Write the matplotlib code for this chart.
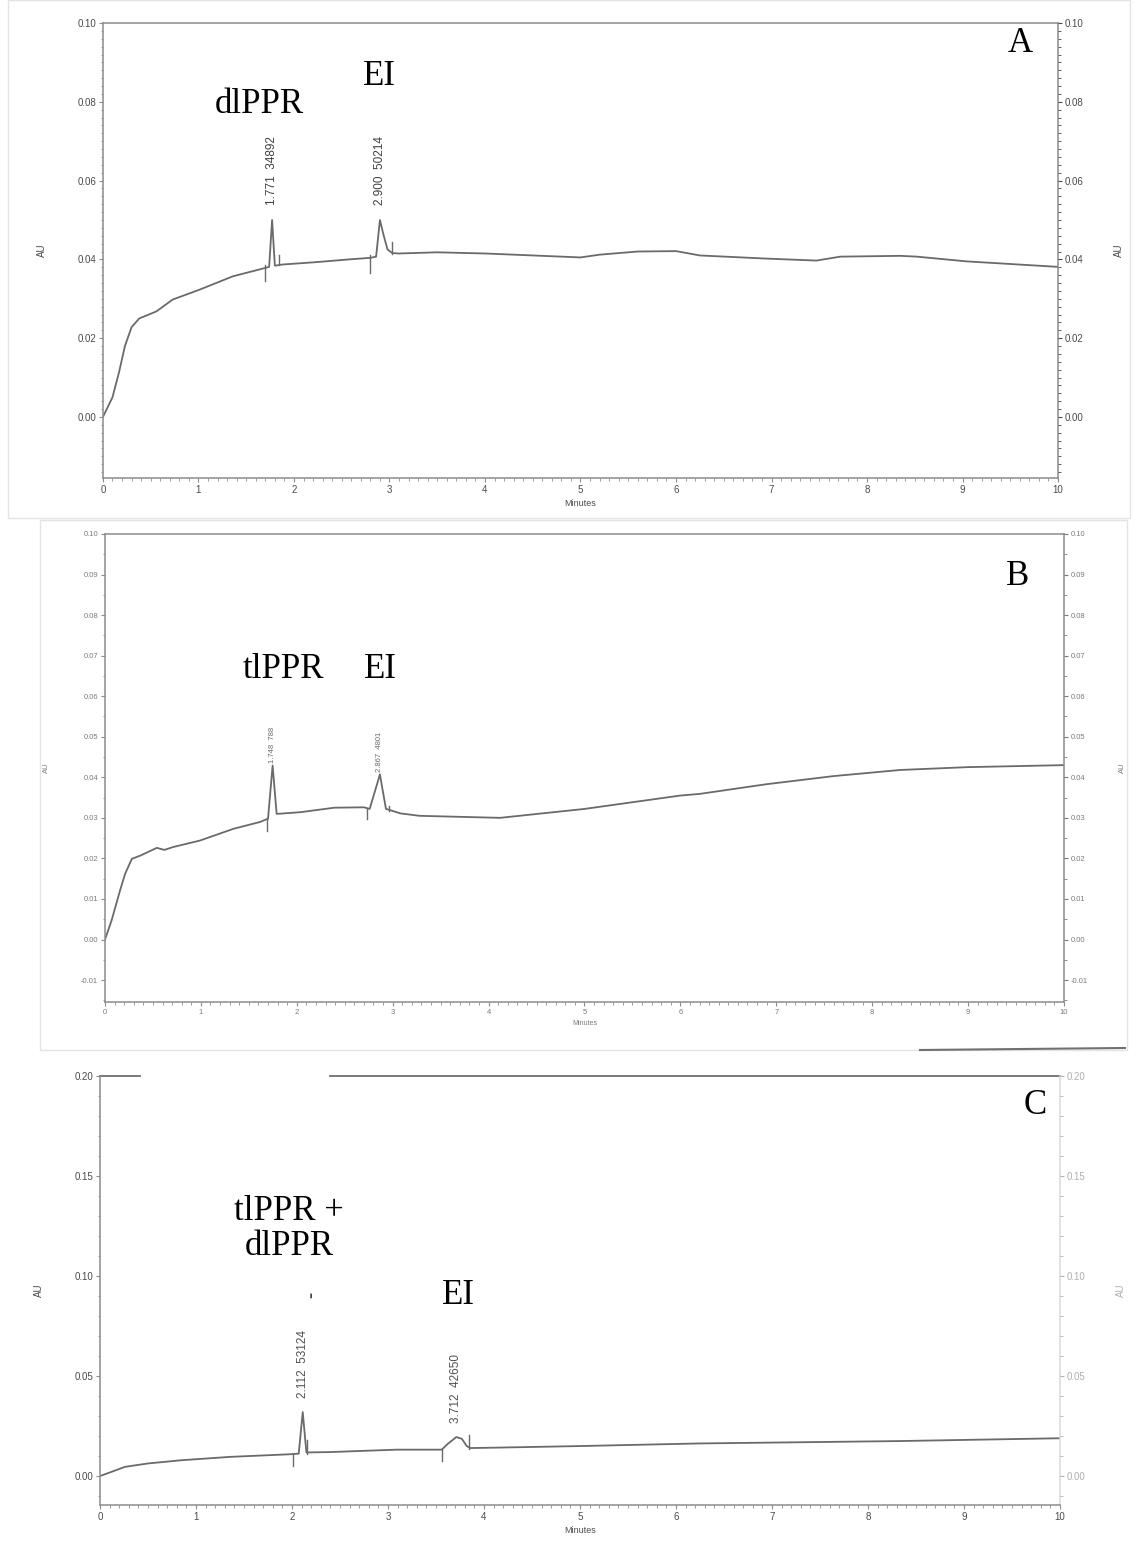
import numpy as np
import matplotlib.pyplot as plt
from matplotlib.ticker import MultipleLocator, FormatStrFormatter
from matplotlib.patches import Rectangle

# ---- run A : dlPPR + EI ----
a_time = [0.0, 0.10, 0.17, 0.23, 0.30, 0.38, 0.56, 0.73, 1.01, 1.36, 1.71, 1.74,
          1.80, 1.88, 2.23, 2.58, 2.80, 2.86, 2.94, 2.98, 3.03, 3.10, 3.50, 4.00,
          4.50, 5.00, 5.20, 5.60, 6.00, 6.25, 6.95, 7.47, 7.72, 8.35, 8.52, 9.04, 10.0]
a_au = [0.0, 0.0050, 0.0115, 0.0180, 0.0228, 0.0250, 0.0268, 0.0298, 0.0323, 0.0357,
        0.0379, 0.0381, 0.0384, 0.0387, 0.0393, 0.0400, 0.0404, 0.0407, 0.0460, 0.0425,
        0.0416, 0.0415, 0.0418, 0.0415, 0.0410, 0.0405, 0.0412, 0.0420, 0.0421, 0.0410,
        0.0402, 0.0397, 0.0407, 0.0409, 0.0407, 0.0395, 0.0381]
a_peak_t = [1.771, 2.900]
a_peak_h = [0.050, 0.050]
a_peak_area = [34892, 50214]
a_start = [(1.70, 0.0345, 0.0385), (2.80, 0.0365, 0.0410)]
a_end = [(1.84, 0.0385, 0.0410), (3.03, 0.0413, 0.0445)]

# ---- run B : tlPPR + EI ----
b_time = [0.0, 0.07, 0.157, 0.21, 0.28, 0.37, 0.54, 0.62, 0.71, 0.99, 1.34, 1.62,
          1.70, 1.79, 1.81, 2.04, 2.39, 2.70, 2.76, 2.93, 2.96, 3.08, 3.28, 4.12,
          5.00, 6.00, 6.20, 6.90, 7.60, 8.29, 8.99, 10.0]
b_au = [0.0, 0.0048, 0.0121, 0.0162, 0.0199, 0.0207, 0.0226, 0.0221, 0.0228, 0.0244,
        0.0273, 0.0290, 0.0298, 0.0310, 0.0310, 0.0314, 0.0325, 0.0326, 0.0322, 0.0322,
        0.0320, 0.0311, 0.0305, 0.0300, 0.0322, 0.0355, 0.0359, 0.0383, 0.0403, 0.0418,
        0.0425, 0.0430]
b_peak_t = [1.748, 2.867]
b_peak_h = [0.0429, 0.0407]
b_peak_area = [788, 4801]
b_start = [(1.69, 0.0268, 0.0300), (2.73, 0.0298, 0.0325)]
b_end = [(2.96, 0.0316, 0.0330)]

# ---- run C : mixture ----
c_time = [0.0, 0.12, 0.26, 0.50, 0.845, 1.36, 1.98, 2.07, 2.15, 2.40, 3.09, 3.56,
          3.62, 3.77, 3.82, 3.86, 4.12, 5.00, 6.24, 8.33, 10.0]
c_au = [0.0, 0.0021, 0.0046, 0.0063, 0.0079, 0.0096, 0.0109, 0.0112, 0.0118, 0.0120,
        0.0132, 0.0132, 0.0160, 0.0186, 0.0150, 0.0140, 0.0142, 0.0150, 0.0163, 0.0175,
        0.0189]
c_peak_t = [2.112, 3.712]
c_peak_h = [0.032, 0.0195]
c_peak_area = [53124, 42650]
c_start = [(2.01, 0.0050, 0.0112), (3.56, 0.0076, 0.0135)]
c_end = [(2.155, 0.0112, 0.0178), (3.84, 0.0137, 0.0203)]

LINE = '#6a6a6a'
AXC = '#8c8c8c'
SERIF = 'Liberation Serif'
plt.rcParams['font.family'] = ['Liberation Sans', 'DejaVu Sans']


def trace(time, au, peak_t, peak_h):
    # merge baseline points with the peak apexes
    t = np.array(list(time) + list(peak_t))
    y = np.array(list(au) + list(peak_h))
    order = np.argsort(t)
    return t[order], y[order]


def setup_axes(ax, ylim, major, minor, fmt, fs, tcol, right_col):
    ax.set_xlim(0, 10)
    ax.set_ylim(*ylim)
    ax.xaxis.set_major_locator(MultipleLocator(1))
    ax.xaxis.set_minor_locator(MultipleLocator(0.1))
    ax.yaxis.set_major_locator(MultipleLocator(major))
    ax.yaxis.set_minor_locator(MultipleLocator(minor))
    ax.yaxis.set_major_formatter(FormatStrFormatter(fmt))
    ax.tick_params(which='major', length=3, width=0.8, color=AXC, labelsize=fs,
                   labelcolor=tcol, pad=2)
    ax.tick_params(which='minor', length=1.8, width=0.6, color=AXC)
    for s in ax.spines.values():
        s.set_color(AXC)
        s.set_linewidth(1.1)
    ax.set_xlabel('Minutes', fontsize=fs - 0.5, color=tcol, labelpad=3)
    ax.set_ylabel('AU', fontsize=fs, color=tcol, labelpad=22)
    ax2 = ax.twinx()
    ax2.set_ylim(*ylim)
    ax2.yaxis.set_major_locator(MultipleLocator(major))
    ax2.yaxis.set_minor_locator(MultipleLocator(minor))
    ax2.yaxis.set_major_formatter(FormatStrFormatter(fmt))
    ax2.tick_params(which='major', length=3, width=0.8, color=right_col, labelsize=fs,
                    labelcolor=right_col, pad=2)
    ax2.tick_params(which='minor', length=1.8, width=0.6, color=right_col)
    for s in ax2.spines.values():
        s.set_visible(False)
    ax2.set_ylabel('AU', fontsize=fs, color=right_col, labelpad=22)
    return ax2


def draw_run(ax, time, au, peak_t, peak_h, starts, ends):
    t, y = trace(time, au, peak_t, peak_h)
    ax.plot(t, y, color=LINE, lw=1.3)
    for x, y0, y1 in starts + ends:
        ax.plot([x, x], [y0, y1], color=LINE, lw=1.0)


def peak_labels(ax, peak_t, peak_h, areas, fs, col, offset):
    for t, h, a in zip(peak_t, peak_h, areas):
        ax.annotate('%.3f  %d' % (t, a), (t, h), xytext=(0, offset),
                    textcoords='offset points', rotation=90, ha='center',
                    va='bottom', fontsize=fs, color=col)


fig = plt.figure(figsize=(11.35, 15.59), dpi=100)

# scanned panel frames
fig.add_artist(Rectangle((8 / 1135, 1 - 518 / 1559), 1122 / 1135, 518 / 1559,
                         transform=fig.transFigure, fill=False, ec='#e4e4e4', lw=1))
fig.add_artist(Rectangle((40 / 1135, 1 - 1050 / 1559), 1087 / 1135, 530 / 1559,
                         transform=fig.transFigure, fill=False, ec='#e4e4e4', lw=1))
fig.add_artist(plt.Line2D([920 / 1135, 1125 / 1135], [1 - 1050 / 1559, 1 - 1048 / 1559],
                          transform=fig.transFigure, color='#707070', lw=1.5))

# ---- panel A ----
axA = fig.add_axes([0.0907, 0.6934, 0.8415, 0.2918])
setup_axes(axA, (-0.0155, 0.10), 0.02, 0.002, '%.2f', 7, '#4a4a4a', '#4a4a4a')
draw_run(axA, a_time, a_au, a_peak_t, a_peak_h, a_start, a_end)
peak_labels(axA, a_peak_t, a_peak_h, a_peak_area, 8.5, '#404040', 11)
axA.text(1.64, 0.0794, 'dlPPR', family=SERIF, fontsize=25, ha='center', va='center')
axA.text(2.90, 0.0865, 'EI', family=SERIF, fontsize=25, ha='center', va='center')
axA.text(9.60, 0.0947, 'A', family=SERIF, fontsize=25, ha='center', va='center')

# ---- panel B ----
axB = fig.add_axes([0.0925, 0.3573, 0.8449, 0.3002])
setup_axes(axB, (-0.0154, 0.10), 0.01, 0.005, '%.2f', 5.5, '#7a7a7a', '#7a7a7a')
draw_run(axB, b_time, b_au, b_peak_t, b_peak_h, b_start, b_end)
peak_labels(axB, b_peak_t, b_peak_h, b_peak_area, 5.5, '#6a6a6a', 2)
axB.text(1.86, 0.0666, 'tlPPR', family=SERIF, fontsize=25, ha='center', va='center')
axB.text(2.87, 0.0666, 'EI', family=SERIF, fontsize=25, ha='center', va='center')
axB.text(9.52, 0.0894, 'B', family=SERIF, fontsize=25, ha='center', va='center')

# ---- panel C ----
axC = fig.add_axes([0.0881, 0.0346, 0.8458, 0.2752])
setup_axes(axC, (-0.0145, 0.20), 0.05, 0.01, '%.2f', 7, '#4a4a4a', '#b0b0b0')
axC.spines['top'].set_visible(False)
axC.spines['right'].set_color('#d8d8d8')
for x0, x1 in [(0.0, 0.042), (0.24, 1.0)]:
    axC.plot([x0, x1], [1, 1], transform=axC.transAxes, color='#707070', lw=1.3,
             clip_on=False)
draw_run(axC, c_time, c_au, c_peak_t, c_peak_h, c_start, c_end)
peak_labels(axC, c_peak_t, c_peak_h, c_peak_area, 8.5, '#505050', 10)
axC.text(c_peak_t[0] + 0.09, 0.0905, '-', rotation=90, fontsize=13, color='#404040',
         ha='center', va='center', fontweight='bold')
axC.text(1.97, 0.1235, 'tlPPR +\ndlPPR', family=SERIF, fontsize=25, ha='center',
         va='center', linespacing=1.1)
axC.text(3.73, 0.0905, 'EI', family=SERIF, fontsize=25, ha='center', va='center')
axC.text(9.74, 0.1855, 'C', family=SERIF, fontsize=25, ha='center', va='center')

fig.savefig('out.png', dpi=100)
